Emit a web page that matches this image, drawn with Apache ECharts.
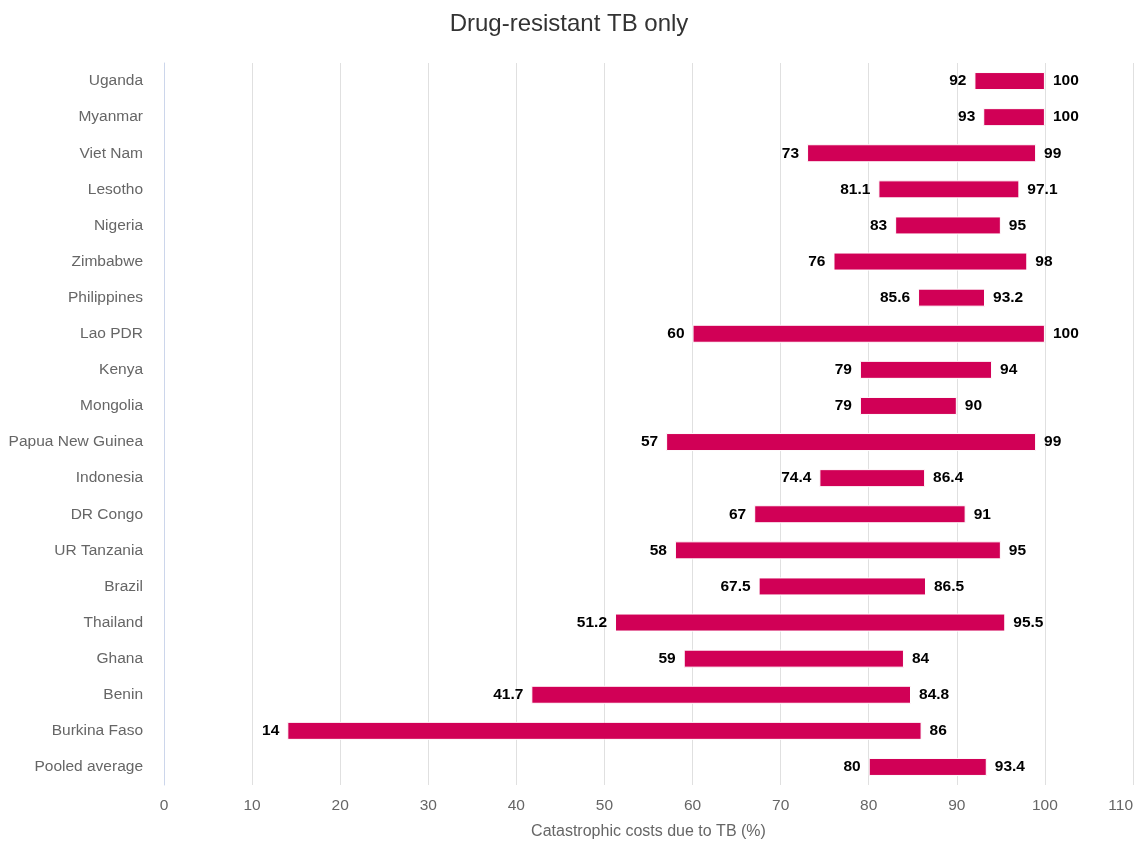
<!DOCTYPE html>
<html>
<head>
<meta charset="utf-8">
<script src="https://cdn.jsdelivr.net/npm/echarts@6/dist/echarts.min.js"></script>
<style>html,body{margin:0;padding:0;background:#fff}#c{width:1138px;height:843px}</style>
</head>
<body>
<div id="c"></div>
<script>
const categories = ["Uganda","Myanmar","Viet Nam","Lesotho","Nigeria","Zimbabwe","Philippines","Lao PDR","Kenya","Mongolia","Papua New Guinea","Indonesia","DR Congo","UR Tanzania","Brazil","Thailand","Ghana","Benin","Burkina Faso","Pooled average"];
const lowValues = [92,93,73,81.1,83,76,85.6,60,79,79,57,74.4,67,58,67.5,51.2,59,41.7,14,80];
const highValues = [100,100,99,97.1,95,98,93.2,100,94,90,99,86.4,91,95,86.5,95.5,84,84.8,86,93.4];
const xTicks = {min:0, max:110, interval:10};

const chart = echarts.init(document.getElementById('c'), null, {renderer:'canvas'});
const labelStyle = {fontFamily:'Liberation Sans, Arial, sans-serif', fontSize:15.5, fontWeight:'bold', color:'#000', padding:[3,0,0,0]};
chart.setOption({
  animation:false,
  backgroundColor:'#fff',
  title:{text:'Drug-resistant TB only', left:'center', top:7,
    textStyle:{fontFamily:'Liberation Sans, Arial, sans-serif', fontSize:24, fontWeight:'normal', color:'#333'}},
  grid:{left:164, right:5, top:63, bottom:58, containLabel:false, outerBoundsMode:'none'},
  xAxis:{type:'value', min:xTicks.min, max:xTicks.max, interval:xTicks.interval,
    name:'Catastrophic costs due to TB (%)', nameLocation:'middle', nameGap:39,
    nameTextStyle:{fontFamily:'Liberation Sans, Arial, sans-serif', fontSize:16, color:'#666'},
    axisLine:{show:false}, axisTick:{show:false},
    axisLabel:{fontFamily:'Liberation Sans, Arial, sans-serif', fontSize:15.5, color:'#666', margin:13, alignMaxLabel:'right'},
    splitLine:{show:true, lineStyle:{color:'#e0e0e0', width:1}}},
  yAxis:{type:'category', data:categories, inverse:true,
    axisLine:{show:true, lineStyle:{color:'#ccd6eb', width:1}}, axisTick:{show:false},
    axisLabel:{fontFamily:'Liberation Sans, Arial, sans-serif', fontSize:15.5, color:'#666', margin:21, padding:[4,0,0,0]}},
  series:[
    {type:'bar', stack:'r', data:lowValues, barWidth:18, silent:true,
      itemStyle:{color:'transparent'},
      label:{show:true, position:'insideRight', distance:8, ...labelStyle,
        formatter:p=>String(lowValues[p.dataIndex])}},
    {type:'bar', stack:'r', data:highValues.map((h,i)=>+(h-lowValues[i]).toFixed(2)), barWidth:18,
      itemStyle:{color:'#d10056', borderColor:'#fff', borderWidth:1},
      label:{show:true, position:'right', distance:8, ...labelStyle,
        formatter:p=>String(highValues[p.dataIndex])}}
  ]
});
</script>
</body>
</html>
